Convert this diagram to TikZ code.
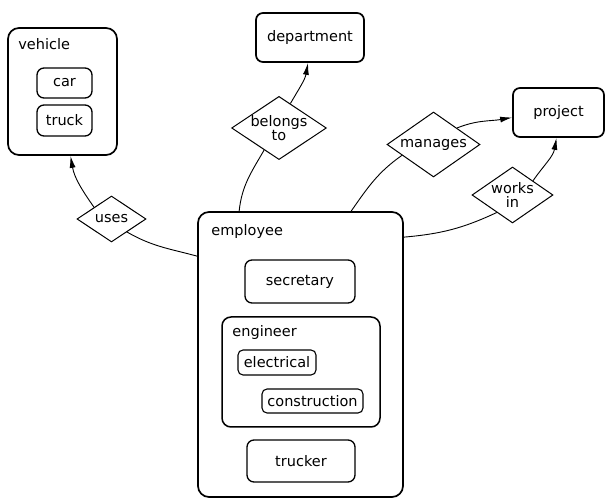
\documentclass[tikz,border=0pt]{standalone}
\usepackage{fontspec}
\setmainfont{DejaVu Sans}
\usetikzlibrary{arrows.meta,shapes.geometric}
\tikzset{
  entity/.style={draw, line width=1.3pt, rounded corners=7pt, inner sep=0pt},
  group/.style={draw, line width=1.7pt, rounded corners=11pt, inner sep=0pt},
  rel/.style={draw, diamond, line width=1pt, inner sep=0pt, aspect=1.5, align=center},
  title/.style={anchor=north west, inner sep=0pt},
  link/.style={line width=0.9pt},
  tip/.style={-{Latex[length=12pt,width=6pt]}},
}
\begin{document}
\begin{tikzpicture}[x=1pt, y=1pt, font=\fontsize{14.5}{14}\selectfont]
		\useasboundingbox (0,0) rectangle (607,500);
		% vehicle with its kinds
		\node[group, minimum width=109, minimum height=127] (vehicle) at (62.5,408.5) {};
		\node[title] (vehicleT) at ([shift={(11,-11)}]vehicle.north west) {vehicle};
		\node[entity, minimum width=55, minimum height=30] (car) at (64.5,417) {car};
		\node[entity, minimum width=55, minimum height=31] (truck) at (64.5,379.5) {truck};
		% entities
		\node[entity, line width=1.7pt, minimum width=108, minimum height=49] (department) at (310,462.5) {department};
		\node[entity, line width=1.7pt, minimum width=91, minimum height=49] (project) at (558.5,387.5) {project};
		% relationships
		\node[rel, minimum width=94, minimum height=63] (belongs) at (279,372) {belongs\\to};
		\node[rel, minimum width=93, minimum height=65] (manages) at (433.5,355.5) {manages};
		\node[rel, minimum width=81, minimum height=56] (works) at (512.5,305) {works\\in};
		\node[rel, minimum width=69, minimum height=46] (uses) at (111.5,281) {uses};
		% employee with its kinds
		\node[group, minimum width=205, minimum height=285] (employee) at (300.5,145.5) {};
		\node[title] (employeeT) at ([shift={(14,-13)}]employee.north west) {employee};
		\node[entity, minimum width=110, minimum height=43] (secretary) at (300,218.5) {secretary};
		\node[group, line width=1.5pt, rounded corners=9pt, minimum width=158, minimum height=110] (engineer) at (301,128) {};
		\node[title] (engineerT) at ([shift={(11,-9)}]engineer.north west) {engineer};
		\node[entity, line width=1.1pt, rounded corners=5pt, minimum width=78, minimum height=25] (electrical) at (277,137.5) {electrical};
		\node[entity, line width=1.1pt, rounded corners=5pt, minimum width=101, minimum height=24] (construction) at (312.5,99) {construction};
		\node[entity, minimum width=108, minimum height=42] (trucker) at (301,39) {trucker};
		% connectors
		\draw[link] ([yshift=-45]employee.north west) to[out=165, in=-30] (uses.-40);
		\draw[link, tip] (uses.north west) to[out=125, in=-80] ([xshift=8]vehicle.south);
		\draw[link] ([xshift=42]employee.north west) to[out=84, in=-120] (belongs.236);
		\draw[link, tip] (belongs.65) to[out=60, in=-100] ([xshift=-2]department.south);
		\draw[link] ([xshift=154]employee.north west) to[out=55, in=-145] (manages.199);
		\draw[link, tip] (manages.north east) to[out=22, in=190] ([yshift=-5]project.west);
		\draw[link] ([yshift=-26]employee.north east) to[out=5, in=-155] (works.228);
		\draw[link, tip] (works.north east) to[out=55, in=-100] ([xshift=-2]project.south);
		\end{tikzpicture}
\end{document}
